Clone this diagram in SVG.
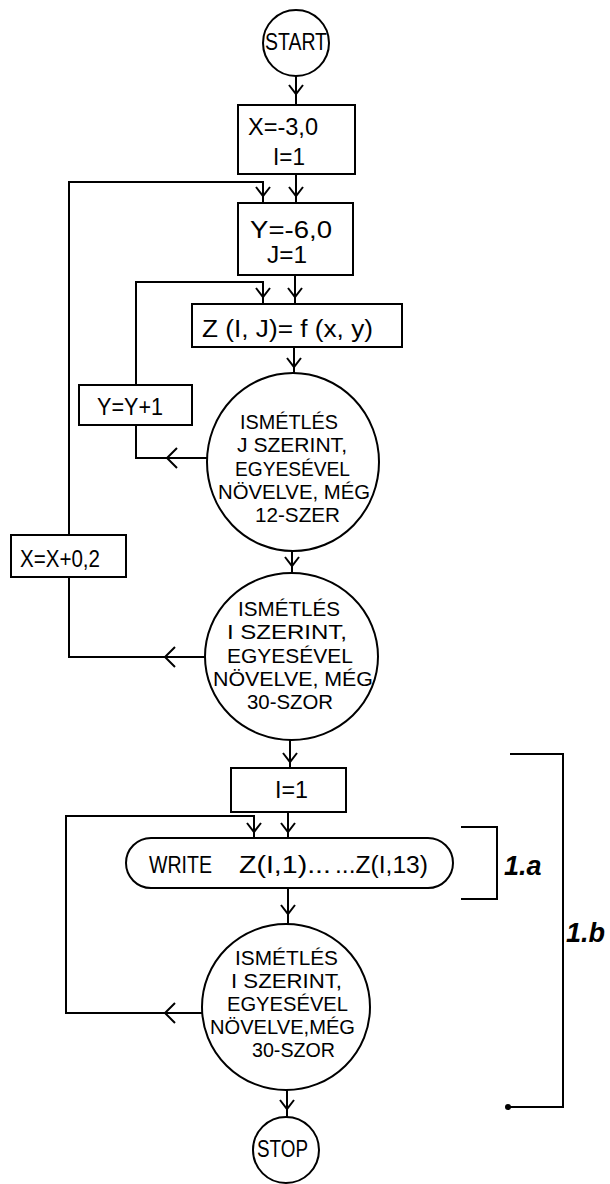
<svg xmlns="http://www.w3.org/2000/svg" width="610" height="1184" viewBox="0 0 610 1184">
<style>
.s{fill:none;stroke:#000;stroke-width:2}
.n{fill:#fff;stroke:#000;stroke-width:2}
.t{font-family:"Liberation Sans",Arial,sans-serif;font-size:23px;fill:#000}
.c{font-family:"Liberation Sans",Arial,sans-serif;font-size:20px;fill:#000}
.l{font-family:"Liberation Sans",Arial,sans-serif;font-size:27px;font-style:italic;font-weight:bold;fill:#000}
</style>
<defs>
<path id="ad" d="M-7,-9 L0,0 L7,-9" fill="none" stroke="#000" stroke-width="2"/>
<path id="al" d="M10,-10 L0,0 L10,10" fill="none" stroke="#000" stroke-width="2"/>
</defs>
<rect width="610" height="1184" fill="#fff"/>
<g id="connectors">
<path class="s" d="M296,76 V105"/><use href="#ad" x="296" y="94"/>
<path class="s" d="M296,174 V203"/><use href="#ad" x="296" y="196"/>
<path class="s" d="M205,657 H69 V577 M69,535 V182 H263 V203"/><use href="#al" x="165" y="657"/><use href="#ad" x="263" y="196"/>
<path class="s" d="M295,275 V304"/><use href="#ad" x="295" y="297"/>
<path class="s" d="M207,458 H136 V425 M136,385 V282 H263 V304"/><use href="#al" x="167" y="458"/><use href="#ad" x="263" y="297"/>
<path class="s" d="M294,347 V374"/><use href="#ad" x="294" y="367"/>
<path class="s" d="M292,551 V573"/><use href="#ad" x="292" y="566"/>
<path class="s" d="M290,740 V768"/><use href="#ad" x="290" y="762"/>
<path class="s" d="M288,812 V838"/><use href="#ad" x="288" y="832"/>
<path class="s" d="M202,1013 H66 V816 H254 V838"/><use href="#al" x="165" y="1013"/><use href="#ad" x="254" y="832"/>
<path class="s" d="M288,888 V924"/><use href="#ad" x="288" y="914"/>
<path class="s" d="M287,1090 V1117"/><use href="#ad" x="287" y="1109"/>
</g>
<g id="start"><circle class="n" cx="296" cy="43" r="33"/><text class="t" x="265" y="50" textLength="62" lengthAdjust="spacingAndGlyphs">START</text></g>
<g id="init-x"><rect class="n" x="238" y="105" width="117" height="69"/><text class="t" x="248" y="135" textLength="70" lengthAdjust="spacingAndGlyphs">X=-3,0</text><text class="t" x="273" y="165" textLength="32" lengthAdjust="spacingAndGlyphs">I=1</text></g>
<g id="init-y"><rect class="n" x="238" y="203" width="115" height="72"/><text class="t" x="250" y="238" textLength="82" lengthAdjust="spacingAndGlyphs">Y=-6,0</text><text class="t" x="267" y="263" textLength="40" lengthAdjust="spacingAndGlyphs">J=1</text></g>
<g id="compute"><rect class="n" x="192" y="304" width="210" height="43"/><text class="t" x="202" y="337" textLength="171" lengthAdjust="spacingAndGlyphs">Z (I, J)= f (x, y)</text></g>
<g id="inc-y"><rect class="n" x="79" y="385" width="113" height="40"/><text class="t" x="97" y="415" textLength="66" lengthAdjust="spacingAndGlyphs">Y=Y+1</text></g>
<g id="inc-x"><rect class="n" x="11" y="535" width="115" height="42"/><text class="t" x="20" y="567" textLength="80" lengthAdjust="spacingAndGlyphs">X=X+0,2</text></g>
<g id="loop-j"><ellipse class="n" cx="293" cy="462" rx="86" ry="89"/>
<text class="c" x="240" y="429" textLength="98" lengthAdjust="spacingAndGlyphs">ISMÉTLÉS</text>
<text class="c" x="237" y="452" textLength="110" lengthAdjust="spacingAndGlyphs">J SZERINT,</text>
<text class="c" x="235" y="476" textLength="115" lengthAdjust="spacingAndGlyphs">EGYESÉVEL</text>
<text class="c" x="218" y="499" textLength="152" lengthAdjust="spacingAndGlyphs">NÖVELVE, MÉG</text>
<text class="c" x="255" y="522" textLength="85" lengthAdjust="spacingAndGlyphs">12-SZER</text></g>
<g id="loop-i1"><ellipse class="n" cx="291.5" cy="656.5" rx="86.5" ry="83.5"/>
<text class="c" x="238" y="616" textLength="102" lengthAdjust="spacingAndGlyphs">ISMÉTLÉS</text>
<text class="c" x="227" y="639" textLength="120" lengthAdjust="spacingAndGlyphs">I SZERINT,</text>
<text class="c" x="227" y="663" textLength="126" lengthAdjust="spacingAndGlyphs">EGYESÉVEL</text>
<text class="c" x="213" y="686" textLength="160" lengthAdjust="spacingAndGlyphs">NÖVELVE, MÉG</text>
<text class="c" x="247" y="709" textLength="86" lengthAdjust="spacingAndGlyphs">30-SZOR</text></g>
<g id="init-i"><rect class="n" x="231" y="768" width="115" height="44"/><text class="t" x="275" y="798" textLength="33" lengthAdjust="spacingAndGlyphs">I=1</text></g>
<g id="write"><rect class="n" x="126" y="838" width="327" height="50" rx="25"/><text class="t" y="873"><tspan x="149" textLength="63" lengthAdjust="spacingAndGlyphs">WRITE</tspan><tspan x="239" textLength="92" lengthAdjust="spacingAndGlyphs">Z(I,1)...</tspan><tspan x="335" textLength="93" lengthAdjust="spacingAndGlyphs">...Z(I,13)</tspan></text></g>
<g id="loop-i2"><ellipse class="n" cx="286" cy="1007" rx="84" ry="83"/>
<text class="c" x="235" y="965" textLength="103" lengthAdjust="spacingAndGlyphs">ISMÉTLÉS</text>
<text class="c" x="231" y="988" textLength="111" lengthAdjust="spacingAndGlyphs">I SZERINT,</text>
<text class="c" x="227" y="1011" textLength="121" lengthAdjust="spacingAndGlyphs">EGYESÉVEL</text>
<text class="c" x="210" y="1034" textLength="145" lengthAdjust="spacingAndGlyphs">NÖVELVE,MÉG</text>
<text class="c" x="252" y="1057" textLength="83" lengthAdjust="spacingAndGlyphs">30-SZOR</text></g>
<g id="stop"><circle class="n" cx="286" cy="1150" r="33"/><text class="t" x="257" y="1157" textLength="51" lengthAdjust="spacingAndGlyphs">STOP</text></g>
<g id="bracket-1a"><path class="s" d="M461,827 H497 V899 H461"/><text class="l" x="504" y="875">1.a</text></g>
<g id="bracket-1b"><path class="s" d="M510,754 H563 V1107 H508"/><circle cx="508" cy="1107" r="3" fill="#000"/><text class="l" x="566" y="942">1.b</text></g>
</svg>
